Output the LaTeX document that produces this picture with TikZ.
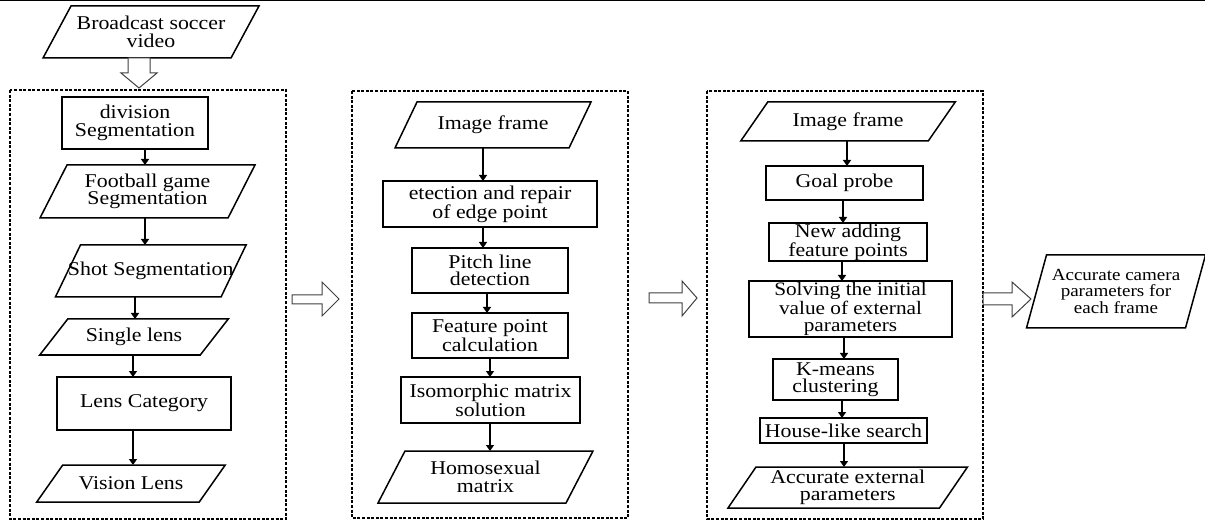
\documentclass[tikz,border=0pt]{standalone}
\usepackage{fontspec}
\setmainfont{Liberation Serif}[FakeStretch=1.12]
\usetikzlibrary{arrows.meta}
\newcommand\parash[2]{\draw[line width=1.5pt, line join=miter] ([xshift=#2pt]#1.north west) -- ([xshift=#2pt]#1.north east) -- ([xshift=-#2pt]#1.south east) -- ([xshift=-#2pt]#1.south west) -- cycle;}
\begin{document}
\begin{tikzpicture}[x=1pt,y=-1pt,
  every node/.style={font=\fontsize{19.5}{17.5}\selectfont, align=center, inner sep=0pt, outer sep=0pt},
  rbox/.style={draw, line width=1.5pt},
  arr/.style={line width=1.4pt, -{Triangle[width=8pt,length=6pt]}},
  group/.style={line width=1.5pt, dash pattern=on 3pt off 1.6pt},
  hollow/.style={draw=black!75, line width=1pt, fill=white, line join=miter}]
\useasboundingbox (0,0) rectangle (1205,521);
\draw[line width=1pt] (0,0.5) -- (1205,0.5);

% groups
\draw[group] (10,90) rectangle (286,519);
\draw[group] (352,91) rectangle (628,518);
\draw[group] (707,91) rectangle (983,519);

% input
\node[minimum width=188pt, minimum height=52pt] (in) at (151,32) {Broadcast soccer\\video};
\parash{in}{14}
\draw[hollow] (128,58) -- (150,58) -- (150,73) -- (157,73) -- (139,88) -- (121,73) -- (128,73) -- cycle;

% column 1
\node[rbox, minimum width=146pt, minimum height=52pt] (d1) at (135,123) {division\\Segmentation};
\node[minimum width=188pt, minimum height=53pt] (d2) at (147.5,191.5) {Football game\\Segmentation};
\parash{d2}{13.5}
\node[minimum width=162.5pt, minimum height=52pt] (d3) at (150.75,271) {Shot Segmentation};
\parash{d3}{12.5}
\node[minimum width=160.5pt, minimum height=36pt] (d4) at (134,337) {Single lens};
\parash{d4}{14}
\node[rbox, minimum width=174pt, minimum height=53pt] (d5) at (144,403.5) {Lens Category};
\node[minimum width=162.5pt, minimum height=37pt] (d6) at (131,483.5) {Vision Lens};
\parash{d6}{13}

\coordinate (xa) at (145,0);
\coordinate (xb) at (135,0);
\coordinate (xc) at (133,0);
\draw[arr] (d1.south -| xa) -- (d2.north -| xa);
\draw[arr] (d2.south -| xa) -- (d3.north -| xa);
\draw[arr] (d3.south -| xb) -- (d4.north -| xb);
\draw[arr] (d4.south -| xc) -- (d5.north -| xc);
\draw[arr] (d5.south -| xc) -- (d6.north -| xc);

% column 2
\node[minimum width=174pt, minimum height=46pt] (e1) at (493,125) {Image frame};
\parash{e1}{11}
\node[rbox, minimum width=214pt, minimum height=46pt] (e2) at (490,204) {etection and repair\\of edge point};
\node[rbox, minimum width=156pt, minimum height=45pt] (e3) at (490,270.5) {Pitch line\\detection};
\node[rbox, minimum width=156pt, minimum height=45pt] (e4) at (490,335.5) {Feature point\\calculation};
\node[rbox, minimum width=179pt, minimum height=46pt] (e5) at (490.5,400) {Isomorphic matrix\\solution};
\node[minimum width=188pt, minimum height=52pt] (e6) at (485.5,477) {Homosexual\\matrix};
\parash{e6}{13.5}

\coordinate (xd) at (483,0);
\coordinate (xe) at (487,0);
\coordinate (xf) at (490,0);
\draw[arr] (e1.south -| xd) -- (e2.north -| xd);
\draw[arr] (e2.south -| xd) -- (e3.north -| xd);
\draw[arr] (e3.south -| xe) -- (e4.north -| xe);
\draw[arr] (e4.south -| xf) -- (e5.north -| xf);
\draw[arr] (e5.south -| xf) -- (e6.north -| xf);

% column 3
\node[minimum width=187.5pt, minimum height=39pt] (f1) at (848,121.5) {Image frame};
\parash{f1}{13.5}
\node[rbox, minimum width=157pt, minimum height=34pt] (f2) at (844.5,183) {Goal probe};
\node[rbox, minimum width=158pt, minimum height=38pt] (f3) at (848,242) {New adding\\feature points};
\node[rbox, minimum width=203pt, minimum height=56pt, font=\fontsize{19}{17}\selectfont] (f4) at (850.5,309) {Solving the initial\\value of external\\parameters};
\node[rbox, minimum width=125pt, minimum height=41pt] (f5) at (835.5,379.5) {K-means\\clustering};
\node[rbox, minimum width=167pt, minimum height=25pt] (f6) at (843.5,430.5) {House-like search};
\node[minimum width=211.5pt, minimum height=41pt] (f7) at (847.75,487.5) {Accurate external\\parameters};
\parash{f7}{14}

\coordinate (xg) at (847,0);
\coordinate (xh) at (843,0);
\coordinate (xi) at (842,0);
\coordinate (xj) at (844,0);
\draw[arr] (f1.south -| xg) -- (f2.north -| xg);
\draw[arr] (f2.south -| xh) -- (f3.north -| xh);
\draw[arr] (f3.south -| xi) -- (f4.north -| xi);
\draw[arr] (f4.south -| xj) -- (f5.north -| xj);
\draw[arr] (f5.south -| xi) -- (f6.north -| xi);
\draw[arr] (f6.south -| xj) -- (f7.north -| xj);

% output
\node[minimum width=159pt, minimum height=73pt, font=\fontsize{17}{15.5}\selectfont] (g) at (1116,291.5) {Accurate camera\\parameters for\\each frame};
\parash{g}{10}

% hollow arrows between stages
\draw[hollow] (292,295) -- (322,295) -- (322,282) -- (339,299) -- (322,316) -- (322,304) -- (292,304) -- cycle;
\draw[hollow] (649,293) -- (682,293) -- (682,281) -- (697,298) -- (682,316) -- (682,303) -- (649,303) -- cycle;
\draw[hollow] (983,293) -- (1012,293) -- (1012,282) -- (1031,299) -- (1012,317) -- (1012,305) -- (983,305) -- cycle;
\end{tikzpicture}
\end{document}
